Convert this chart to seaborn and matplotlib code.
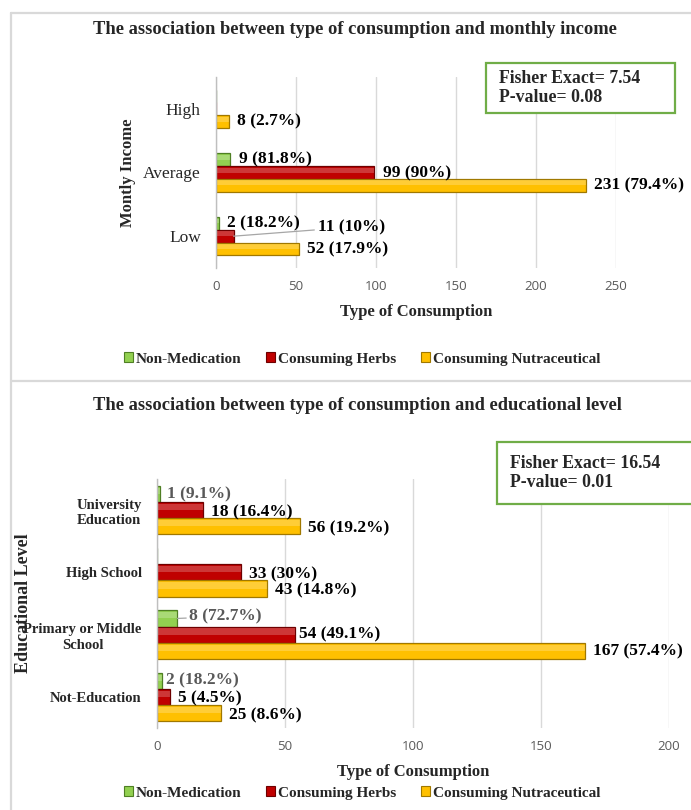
import matplotlib
matplotlib.use("Agg")
import matplotlib.pyplot as plt
from matplotlib.patches import Rectangle, Patch
from matplotlib.lines import Line2D
import seaborn as sns
import pandas as pd

# ---- data -------------------------------------------------------------
consumption_types = ["Non-Medication", "Consuming Herbs", "Consuming Nutraceutical"]

income_levels = ["High", "Average", "Low"]
income_non_medication = [0, 9, 2]
income_herbs = [0, 99, 11]
income_nutraceutical = [8, 231, 52]
income_non_medication_pct = ["", "81.8%", "18.2%"]
income_herbs_pct = ["", "90%", "10%"]
income_nutraceutical_pct = ["2.7%", "79.4%", "17.9%"]

education_levels = ["University\nEducation", "High School",
                    "Primary or Middle\nSchool", "Not-Education"]
education_non_medication = [1, 0, 8, 2]
education_herbs = [18, 33, 54, 5]
education_nutraceutical = [56, 43, 167, 25]
education_non_medication_pct = ["9.1%", "", "72.7%", "18.2%"]
education_herbs_pct = ["16.4%", "30%", "49.1%", "4.5%"]
education_nutraceutical_pct = ["19.2%", "14.8%", "57.4%", "8.6%"]

income_stats = ["Fisher Exact= 7.54", "P-value= 0.08"]
education_stats = ["Fisher Exact= 16.54", "P-value= 0.01"]

# ---- style ------------------------------------------------------------
FACE = ["#92D050", "#C00000", "#FFC000"]
EDGE = ["#4F7F24", "#6E0000", "#A07800"]
GRID = "#D9D9D9"
TICK_GRAY = "#595959"

sns.set_theme(style="white")
plt.rcParams["font.family"] = ["Liberation Serif", "DejaVu Sans"]

W, H = 691, 810
fig = plt.figure(figsize=(W / 100, H / 100), dpi=100)


def fx(px):
    return px / W


def fy(py):
    return 1 - py / H


def long_frame(levels, series):
    rows = []
    for t, vals in zip(consumption_types, series):
        for lvl, v in zip(levels, vals):
            rows.append({"level": lvl, "type": t, "count": v})
    return pd.DataFrame(rows)


def draw_panel(ax, levels, series, pcts, xmax, xticks, bar_width,
               ytick_font, ylabel, ylabel_size, gray_first,
               offsets, leaders, default_offset):
    df = long_frame(levels, series)
    sns.barplot(data=df, y="level", x="count", hue="type", order=levels,
                hue_order=consumption_types, palette=FACE, orient="h",
                width=bar_width, legend=False, ax=ax, saturation=1)
    for k, cont in enumerate(ax.containers):
        for i, bar in enumerate(cont):
            bar.set_edgecolor(EDGE[k])
            bar.set_linewidth(0.9)
            val = series[k][i]
            if val == 0:
                continue
            # soft bevel highlight across the upper part of the bar
            bx, by = bar.get_x(), bar.get_y()
            bw, bh = bar.get_width(), bar.get_height()
            ax.add_patch(Rectangle((bx, by + bh * 0.12), bw, bh * 0.38,
                                   facecolor="white", alpha=0.22, lw=0,
                                   zorder=bar.get_zorder() + 0.1))
            label = f"{val} ({pcts[k][i]})"
            y = by + bh / 2
            dx, dy = offsets.get((k, i), default_offset)
            color = TICK_GRAY if (k == 0 and gray_first) else "black"
            arrow = None
            if (k, i) in leaders:
                arrow = dict(arrowstyle="-", color="#A6A6A6", lw=0.9,
                             shrinkA=0, shrinkB=0)
            ax.annotate(label, xy=(val, y), xytext=(dx * 0.72, -dy * 0.72),
                        textcoords="offset points", ha="left", va="center",
                        fontsize=12.5, fontweight="bold", color=color,
                        arrowprops=arrow, annotation_clip=False)
    ax.set_xlim(0, xmax)
    ax.set_xticks(xticks)
    ax.set_xticklabels([str(t) for t in xticks], family="Open Sans",
                       fontsize=9.5, color=TICK_GRAY)
    ax.set_yticks(range(len(levels)))
    ax.set_yticklabels(levels, multialignment="center", **ytick_font)
    ax.tick_params(axis="y", length=0, pad=11)
    ax.tick_params(axis="x", length=0, pad=9)
    ax.xaxis.grid(True, color=GRID, lw=1)
    ax.set_axisbelow(True)
    for s in ["top", "right", "bottom"]:
        ax.spines[s].set_visible(False)
    ax.spines["left"].set_color("#BFBFBF")
    ax.spines["left"].set_linewidth(1)
    ax.set_xlabel("Type of Consumption", fontsize=12, fontweight="bold")
    ax.set_ylabel(ylabel, fontsize=ylabel_size, fontweight="bold")


# ---- top panel: monthly income ---------------------------------------
ax1 = fig.add_axes([fx(216), fy(268), fx(616) - fx(216), fy(77) - fy(268)])
draw_panel(ax1, income_levels,
           [income_non_medication, income_herbs, income_nutraceutical],
           [income_non_medication_pct, income_herbs_pct, income_nutraceutical_pct],
           250, [0, 50, 100, 150, 200, 250], 0.6,
           dict(fontsize=12.5, fontweight="normal"),
           "Montly Income", 12, False,
           offsets={(1, 2): (84, -9), (0, 1): (9, 0), (1, 1): (9, 1)},
           leaders={(1, 2)}, default_offset=(8, 0))
ax1.xaxis.set_label_coords(0.5, -0.19)
ax1.yaxis.set_label_coords(-0.2, 0.5)

# ---- bottom panel: educational level ---------------------------------
ax2 = fig.add_axes([fx(157), fy(728), fx(669) - fx(157), fy(479) - fy(728)])
draw_panel(ax2, education_levels,
           [education_non_medication, education_herbs, education_nutraceutical],
           [education_non_medication_pct, education_herbs_pct, education_nutraceutical_pct],
           200, [0, 50, 100, 150, 200], 0.78,
           dict(fontsize=10.5, fontweight="bold", linespacing=1.25),
           "Educational Level", 13, True,
           offsets={(0, 0): (7, 0), (0, 2): (12, -2), (0, 3): (4, 0),
                    (1, 2): (4, 0), (2, 2): (8, 1)},
           leaders={(0, 2)}, default_offset=(8, 2))
ax2.xaxis.set_label_coords(0.5, -0.145)
ax2.yaxis.set_label_coords(-0.245, 0.5)

# ---- titles -----------------------------------------------------------
fig.text(fx(355), fy(30), "The association between type of consumption and monthly income",
         ha="center", va="center", fontsize=13.3, fontweight="bold")
fig.text(fx(357), fy(406), "The association between type of consumption and educational level",
         ha="center", va="center", fontsize=13.3, fontweight="bold")

# ---- statistics boxes --------------------------------------------------
for (x0, y0, x1, y1), lines in [((486, 63, 675, 113), income_stats),
                                ((497, 442, 705, 504), education_stats)]:
    fig.patches.append(Rectangle((fx(x0), fy(y1)), fx(x1) - fx(x0), fy(y0) - fy(y1),
                                 transform=fig.transFigure, fill=True, facecolor="white",
                                 edgecolor="#70AD47", lw=1.6, zorder=5))
    fig.text(fx(x0 + 13), fy((y0 + y1) / 2), "\n".join(lines), ha="left", va="center",
             fontsize=12.8, fontweight="bold", linespacing=1.2, zorder=6)

# ---- legends -----------------------------------------------------------
handles = [Patch(facecolor=FACE[k], edgecolor=EDGE[k], lw=0.8) for k in range(3)]
for ycen in (359, 793):
    fig.legend(handles, consumption_types, loc="center",
               bbox_to_anchor=(fx(362), fy(ycen)), ncol=3, frameon=False,
               handlelength=0.6, handleheight=0.6, handletextpad=0.2,
               columnspacing=1.6, prop=dict(weight="bold", size=11))

# ---- panel frames ------------------------------------------------------
frame = dict(color=GRID, lw=1.6, transform=fig.transFigure)
fig.add_artist(Line2D([fx(11), fx(11)], [fy(13), 0], **frame))
fig.add_artist(Line2D([fx(11), 1], [fy(13), fy(13)], **frame))
fig.add_artist(Line2D([fx(11), 1], [fy(381), fy(381)], **frame))

fig.savefig("out.png", dpi=100, facecolor="white")
